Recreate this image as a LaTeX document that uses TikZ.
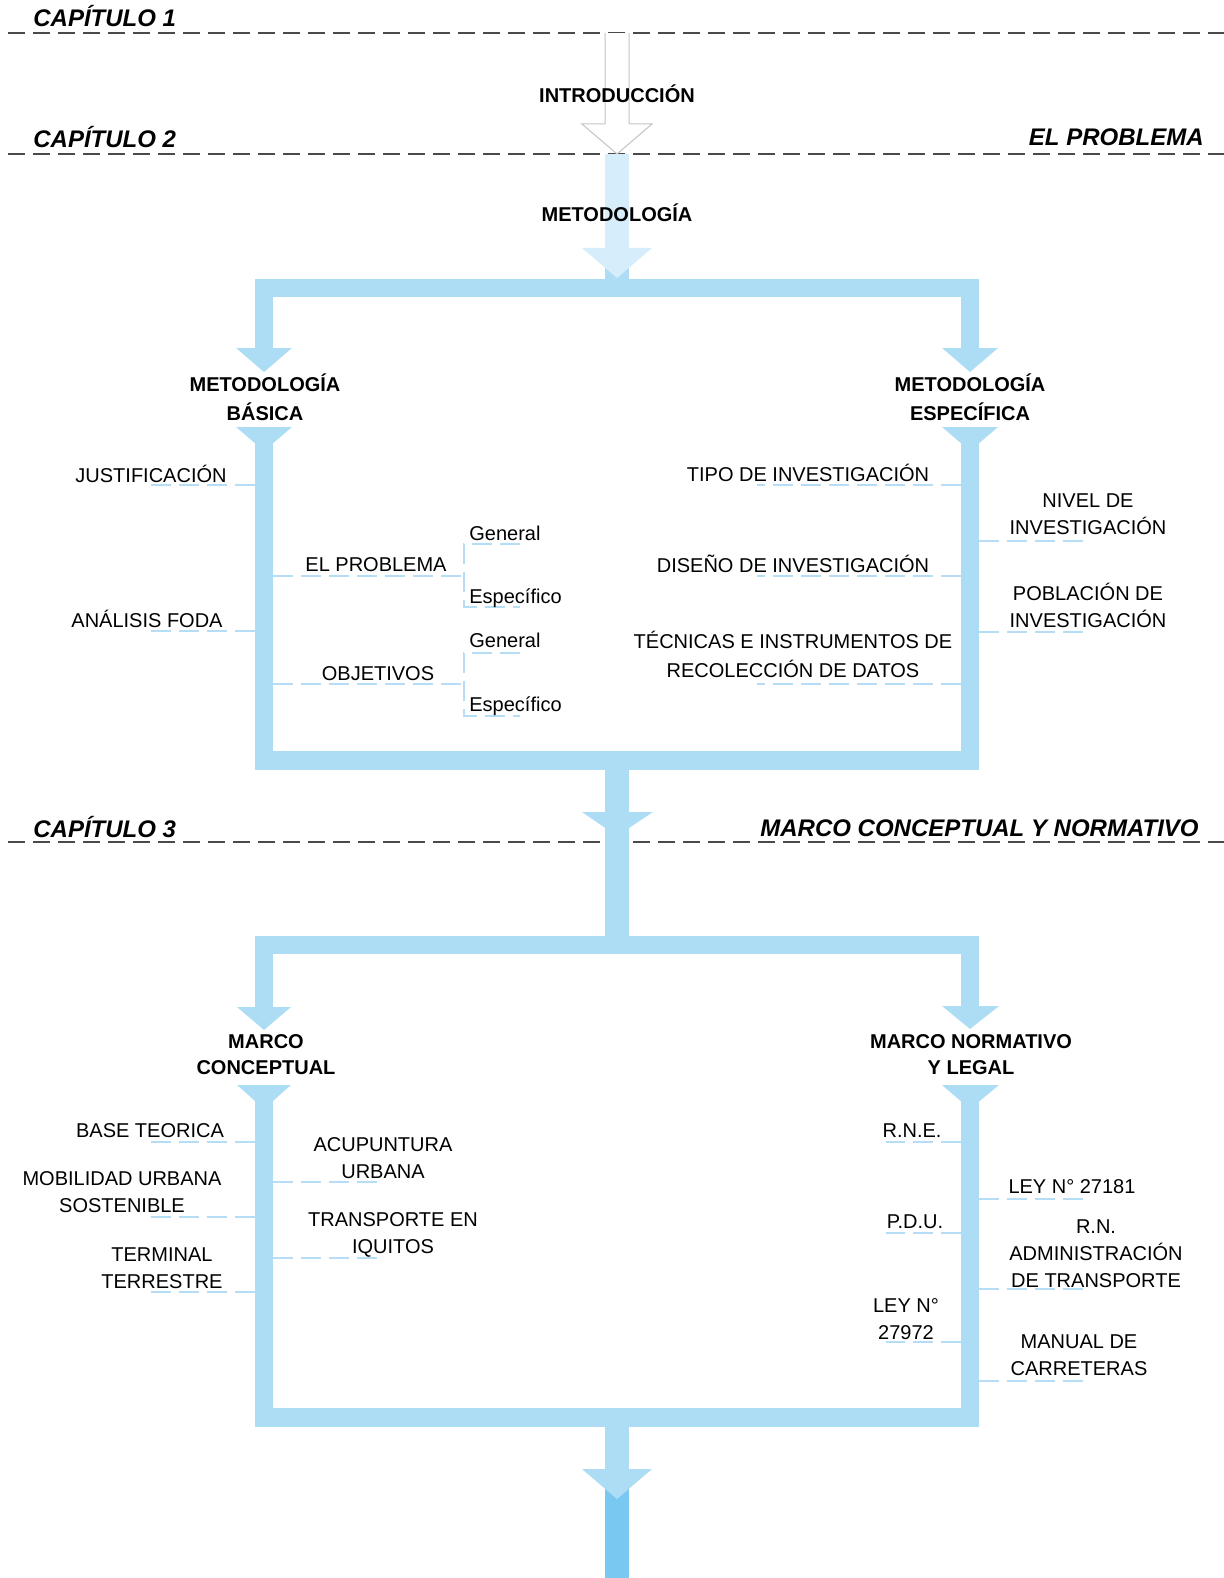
\documentclass[tikz,border=0pt]{standalone}
\usepackage{fontspec}
\setmainfont{Liberation Sans}
\definecolor{frame}{HTML}{ADDDF5}
\definecolor{paleblue}{HTML}{D6EEFB}
\definecolor{deepblue}{HTML}{79C8F1}
\definecolor{leadblue}{HTML}{B5DEF6}
\definecolor{sepgray}{HTML}{4A4A4A}
\definecolor{outlinegray}{HTML}{C4C4C4}
\begin{document}
\begin{tikzpicture}[x=0.5pt,y=-0.5pt,
  chap/.style={font=\fontsize{12}{14}\selectfont\bfseries\itshape, inner sep=0pt},
  head/.style={font=\fontsize{10}{14.5}\selectfont\bfseries, align=center, inner sep=0pt},
  headb/.style={font=\fontsize{10}{13}\selectfont\bfseries, align=center, inner sep=0pt},
  lbl/.style={font=\fontsize{10}{13.5}\selectfont, align=center, inner sep=0pt},
  lblw/.style={font=\fontsize{10}{14.5}\selectfont, align=center, inner sep=0pt},
  sepline/.style={draw=sepgray, line width=0.75pt, dash pattern=on 8.5pt off 4pt},
  lead/.style={draw=leadblue, line width=0.6pt, dash pattern=on 10pt off 4pt},
  band/.style={fill=frame},
]
\useasboundingbox (0,0) rectangle (1224,1578);

% chapter separators
\draw[sepline] (8,33) -- (1224,33);
\draw[sepline] (8,154) -- (1224,154);
\draw[sepline] (8,842) -- (1224,842);

% introduction arrow (outlined)
\fill[white] (605,33) rectangle (629,124);
\fill[white] (582,124) -- (652,124) -- (617,154) -- cycle;
\draw[outlinegray, line width=0.5pt] (605,33) -- (605,124) -- (582,124) -- (617,154)
  -- (652,124) -- (629,124) -- (629,33);

% methodology arrow
\fill[frame] (605,266) rectangle (629,280);
\fill[paleblue] (605,154) rectangle (629,250);
\fill[paleblue] (582,248) -- (652,248) -- (617,278) -- cycle;

% ---- upper frame ----
\fill[band] (255,279) rectangle (979,297);
\fill[band] (255,296) rectangle (273,350);
\fill[band] (236,348) -- (292,348) -- (264,372) -- cycle;
\fill[band] (961,296) rectangle (979,350);
\fill[band] (942,348) -- (998,348) -- (970,372) -- cycle;
\fill[band] (236,427) -- (292,427) -- (264,451) -- cycle;
\fill[band] (255,440) rectangle (273,770);
\fill[band] (942,427) -- (998,427) -- (970,451) -- cycle;
\fill[band] (961,440) rectangle (979,770);
\fill[band] (255,751) rectangle (979,770);
% link to the next chapter
\fill[band] (605,769) rectangle (629,937);
\fill[band] (582,812) -- (653,812) -- (617,836) -- cycle;

% ---- lower frame ----
\fill[band] (255,936) rectangle (979,954);
\fill[band] (255,953) rectangle (273,1009);
\fill[band] (237,1007) -- (291,1007) -- (264,1030) -- cycle;
\fill[band] (961,953) rectangle (979,1009);
\fill[band] (942,1006) -- (999,1006) -- (970,1029) -- cycle;
\fill[band] (237,1085) -- (291,1085) -- (264,1109) -- cycle;
\fill[band] (255,1098) rectangle (273,1427);
\fill[band] (942,1085) -- (999,1085) -- (970,1109) -- cycle;
\fill[band] (961,1098) rectangle (979,1427);
\fill[band] (255,1408) rectangle (979,1427);
% outgoing arrow
\fill[deepblue] (605,1488) rectangle (629,1578);
\fill[band] (605,1426) rectangle (629,1471);
\fill[band] (582,1469) -- (652,1469) -- (617,1499) -- cycle;

% ---- leader lines, upper frame ----
\draw[lead] (255,485) -- (150,485);
\draw[lead] (255,631) -- (150,631);
\draw[lead] (273,576) -- (464,576);
\draw[lead] (520,544) -- (464,544) -- (464,607) -- (520,607);
\draw[lead] (273,684) -- (464,684);
\draw[lead] (520,653) -- (464,653) -- (464,716) -- (520,716);
\draw[lead] (961,485) -- (757,485);
\draw[lead] (961,576) -- (757,576);
\draw[lead] (961,684) -- (757,684);
\draw[lead] (979,541) -- (1085,541);
\draw[lead] (979,632) -- (1085,632);

% ---- leader lines, lower frame ----
\draw[lead] (255,1142) -- (150,1142);
\draw[lead] (255,1217) -- (150,1217);
\draw[lead] (255,1292) -- (150,1292);
\draw[lead] (273,1182) -- (385,1182);
\draw[lead] (273,1258) -- (385,1258);
\draw[lead] (961,1142) -- (886,1142);
\draw[lead] (961,1233) -- (886,1233);
\draw[lead] (961,1342) -- (886,1342);
\draw[lead] (979,1199) -- (1085,1199);
\draw[lead] (979,1289) -- (1085,1289);
\draw[lead] (979,1381) -- (1085,1381);

% chapter titles
\node[chap, anchor=base west] (cap1) at (33,27) {CAPÍTULO 1};
\node[chap, anchor=base west] (cap2) at (33,148) {CAPÍTULO 2};
\node[chap, anchor=base east] (tit2) at (1204,146) {EL PROBLEMA};
\node[chap, anchor=base west] (cap3) at (33,837) {CAPÍTULO 3};
\node[chap, anchor=base east] (tit3) at (1199,836) {MARCO CONCEPTUAL Y NORMATIVO};

% headings (multi-line nodes are placed by the baseline of their last line)
\node[head, anchor=base] (intro) at (617,103) {INTRODUCCIÓN};
\node[head, anchor=base] (met) at (617,221) {METODOLOGÍA};
\node[head, anchor=base] (mbas) at (265,420) {METODOLOGÍA\\BÁSICA};
\node[head, anchor=base] (mesp) at (970,420) {METODOLOGÍA\\ESPECÍFICA};
\node[headb, anchor=base] (mcon) at (266,1074) {MARCO\\CONCEPTUAL};
\node[headb, anchor=base] (mnor) at (971,1074) {MARCO NORMATIVO\\Y LEGAL};

% basic methodology items
\node[lbl, anchor=base] (just) at (151,482) {JUSTIFICACIÓN};
\node[lbl, anchor=base] (foda) at (147,627) {ANÁLISIS FODA};
\node[lbl, anchor=base] (prob) at (376,571) {EL PROBLEMA};
\node[lbl, anchor=base west] (gen1) at (469,540) {General};
\node[lbl, anchor=base west] (esp1) at (469,603) {Específico};
\node[lbl, anchor=base] (obj) at (378,680) {OBJETIVOS};
\node[lbl, anchor=base west] (gen2) at (469,647) {General};
\node[lbl, anchor=base west] (esp2) at (469,711) {Específico};

% specific methodology items
\node[lbl, anchor=base] (tipo) at (808,481) {TIPO DE INVESTIGACIÓN};
\node[lbl, anchor=base] (dis) at (793,572) {DISEÑO DE INVESTIGACIÓN};
\node[lblw, anchor=base] (tec) at (793,677) {TÉCNICAS E INSTRUMENTOS DE\\RECOLECCIÓN DE DATOS};
\node[lbl, anchor=base] (niv) at (1088,534) {NIVEL DE\\INVESTIGACIÓN};
\node[lbl, anchor=base] (pob) at (1088,627) {POBLACIÓN DE\\INVESTIGACIÓN};

% conceptual framework items
\node[lbl, anchor=base] (bt) at (150,1137) {BASE TEORICA};
\node[lbl, anchor=base] (mob) at (122,1212) {MOBILIDAD URBANA\\SOSTENIBLE};
\node[lbl, anchor=base] (term) at (162,1288) {TERMINAL\\TERRESTRE};
\node[lbl, anchor=base] (acu) at (383,1178) {ACUPUNTURA\\URBANA};
\node[lbl, anchor=base] (trans) at (393,1253) {TRANSPORTE EN\\IQUITOS};

% legal framework items
\node[lbl, anchor=base] (rne) at (912,1137) {R.N.E.};
\node[lbl, anchor=base] (pdu) at (915,1228) {P.D.U.};
\node[lbl, anchor=base] (ley1) at (906,1339) {LEY N°\\27972};
\node[lbl, anchor=base] (ley2) at (1072,1193) {LEY N° 27181};
\node[lbl, anchor=base] (rn) at (1096,1287) {R.N.\\ADMINISTRACIÓN\\DE TRANSPORTE};
\node[lbl, anchor=base] (man) at (1079,1375) {MANUAL DE\\CARRETERAS};
\end{tikzpicture}
\end{document}
